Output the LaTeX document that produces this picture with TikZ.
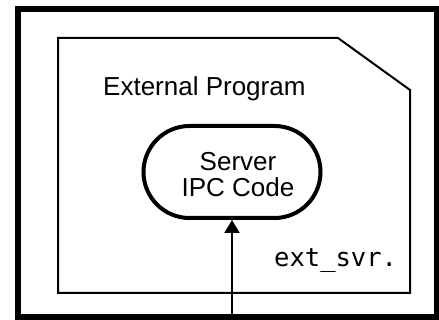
\documentclass[tikz,border=0pt]{standalone}
\usepackage{fontspec}
\setmainfont{Liberation Sans}
\setmonofont{DejaVu Sans Mono}
\usetikzlibrary{arrows.meta}
\begin{document}
\begin{tikzpicture}[x=1pt,y=-1pt,
  outerbox/.style={draw=black,line width=6pt},
  progbox/.style={draw=black,line width=2pt,line join=miter},
  stadium/.style={draw=black,line width=4pt,rounded corners=46pt,minimum width=177pt,minimum height=92pt,inner sep=0pt},
  lbl/.style={font=\fontsize{26}{26}\selectfont,inner sep=0pt,align=center},
  monolbl/.style={font=\ttfamily\fontsize{25.5}{25.5}\selectfont,inner sep=0pt},
  conn/.style={line width=2pt,-{Triangle[width=15pt,length=13pt]}}]
\useasboundingbox (0,0) rectangle (439,320);
\fill[white] (0,0) rectangle (439,320);
\draw[outerbox] (18,9) rectangle (437,317);
\draw[progbox] (58,38) -- (338,38) -- (410,90) -- (410,293) -- (58,293) -- cycle;
\node[lbl,anchor=base west] (title) at (103,96) {External Program};
\node[stadium] (ipc) at (232,172) {};
\node[lbl,anchor=base] (ipctext) at (238,197) {Server\\IPC Code};
\node[monolbl,anchor=base west] (file) at (274,267) {ext\_svr.};
\coordinate (src) at (232,317);
\draw[conn] (src) -- (ipc.south);
\end{tikzpicture}
\end{document}
